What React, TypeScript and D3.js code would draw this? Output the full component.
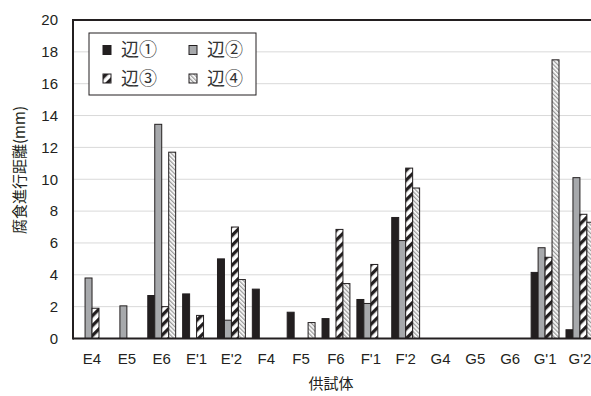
import * as d3 from "d3";

// specimens along the x axis
const specimens = ["E4", "E5", "E6", "E'1", "E'2", "F4", "F5", "F6", "F'1", "F'2", "G4", "G5", "G6", "G'1", "G'2"];
const seriesNames = ["辺①", "辺②", "辺③", "辺④"];

// corrosion progress distance (mm) per edge
const edge1 = [0, 0, 2.7, 2.8, 5.0, 3.1, 1.65, 1.25, 2.45, 7.6, 0, 0, 0, 4.15, 0.55];
const edge2 = [3.8, 2.05, 13.45, 0, 1.15, 0, 0, 0, 2.2, 6.15, 0, 0, 0, 5.7, 10.1];
const edge3 = [1.9, 0, 2.0, 1.45, 7.0, 0, 0, 6.85, 4.65, 10.7, 0, 0, 0, 5.1, 7.8];
const edge4 = [0, 0, 11.7, 0, 3.7, 0, 1.0, 3.45, 0, 9.45, 0, 0, 0, 17.5, 7.3];

const yTicks = [0, 2, 4, 6, 8, 10, 12, 14, 16, 18, 20];

const W = 591;
const H = 396;
const left = 73;
const top = 20;
const bottom = 338.5;
const step = 34.85;

const dark = "#231f20";
const fills = [dark, "#a7a9ac", "url(#stripe3)", "url(#stripe4)"];
const font = "'Liberation Sans', Arial, sans-serif";
const cjk = "'Noto Sans CJK JP', sans-serif";

export default function App() {
  const x = d3.scaleBand<string>().domain(specimens).range([left + 1.6, left + 1.6 + step * specimens.length]);
  const inner = d3.scaleBand<number>().domain([0, 1, 2, 3]).range([x.bandwidth() * 0.1, x.bandwidth() * 0.9]);
  const y = d3.scaleLinear().domain([0, 20]).range([bottom, top]);
  const series = [edge1, edge2, edge3, edge4];

  return (
    <svg width={W} height={H} style={{ position: "absolute", left: 0, top: 0, background: "#fff" }}>
      <defs>
        <pattern id="stripe3" patternUnits="userSpaceOnUse" width={7} height={7} patternTransform="rotate(45)">
          <rect width={7} height={7} fill="#fff" />
          <rect width={3.3} height={7} fill={dark} />
        </pattern>
        <pattern id="stripe4" patternUnits="userSpaceOnUse" width={3} height={3} patternTransform="rotate(-45)">
          <rect width={3} height={3} fill="#fff" />
          <rect width={1.3} height={3} fill="#9a9a9a" />
        </pattern>
      </defs>

      {/* gridlines */}
      {yTicks.slice(1, -1).map((t) => (
        <line key={t} x1={left} x2={W} y1={y(t)} y2={y(t)} stroke="#d9d9d9" strokeWidth={1} />
      ))}

      {/* bars */}
      {series.map((vals, s) =>
        vals.map((v, i) =>
          v > 0 ? (
            <rect
              key={s + "-" + i}
              x={(x(specimens[i]) as number) + (inner(s) as number)}
              y={y(v)}
              width={inner.bandwidth()}
              height={y(0) - y(v)}
              fill={fills[s]}
              stroke={dark}
              strokeWidth={1}
            />
          ) : null
        )
      )}

      {/* frame */}
      <line x1={left} x2={W} y1={top} y2={top} stroke={dark} strokeWidth={2} />
      <line x1={left} x2={W} y1={bottom} y2={bottom} stroke={dark} strokeWidth={2} />
      <line x1={left} x2={left} y1={top - 1} y2={bottom + 1} stroke={dark} strokeWidth={2} />

      {/* y ticks */}
      {yTicks.map((t) => (
        <text key={t} x={58} y={y(t)} dy="0.35em" textAnchor="end" fontFamily={font} fontSize={15} fill={dark}>
          {t}
        </text>
      ))}

      {/* x labels */}
      {specimens.map((c) => (
        <text key={c} x={(x(c) as number) + x.bandwidth() / 2} y={364} textAnchor="middle" fontFamily={font} fontSize={15} fill={dark}>
          {c}
        </text>
      ))}

      <text x={331} y={389} textAnchor="middle" fontFamily={cjk} fontSize={15} fill={dark}>供試体</text>
      <text transform="translate(25,170) rotate(-90)" textAnchor="middle" fontFamily={cjk} fontSize={15} fill={dark}>
        腐食進行距離(mm)
      </text>

      {/* legend */}
      <rect x={89} y={33} width={167} height={62} fill="#fff" stroke={dark} strokeWidth={1} />
      {seriesNames.map((n, s) => {
        const lx = s % 2 === 0 ? 103 : 189;
        const ly = s < 2 ? 50 : 78.5;
        return (
          <g key={n}>
            <rect x={lx} y={ly - 4.5} width={8} height={9} fill={fills[s]} stroke={dark} strokeWidth={1} />
            <text x={lx + 18} y={ly} dy="0.35em" fontFamily={cjk} fontSize={18} fill="#333">
              {n}
            </text>
          </g>
        );
      })}
    </svg>
  );
}
